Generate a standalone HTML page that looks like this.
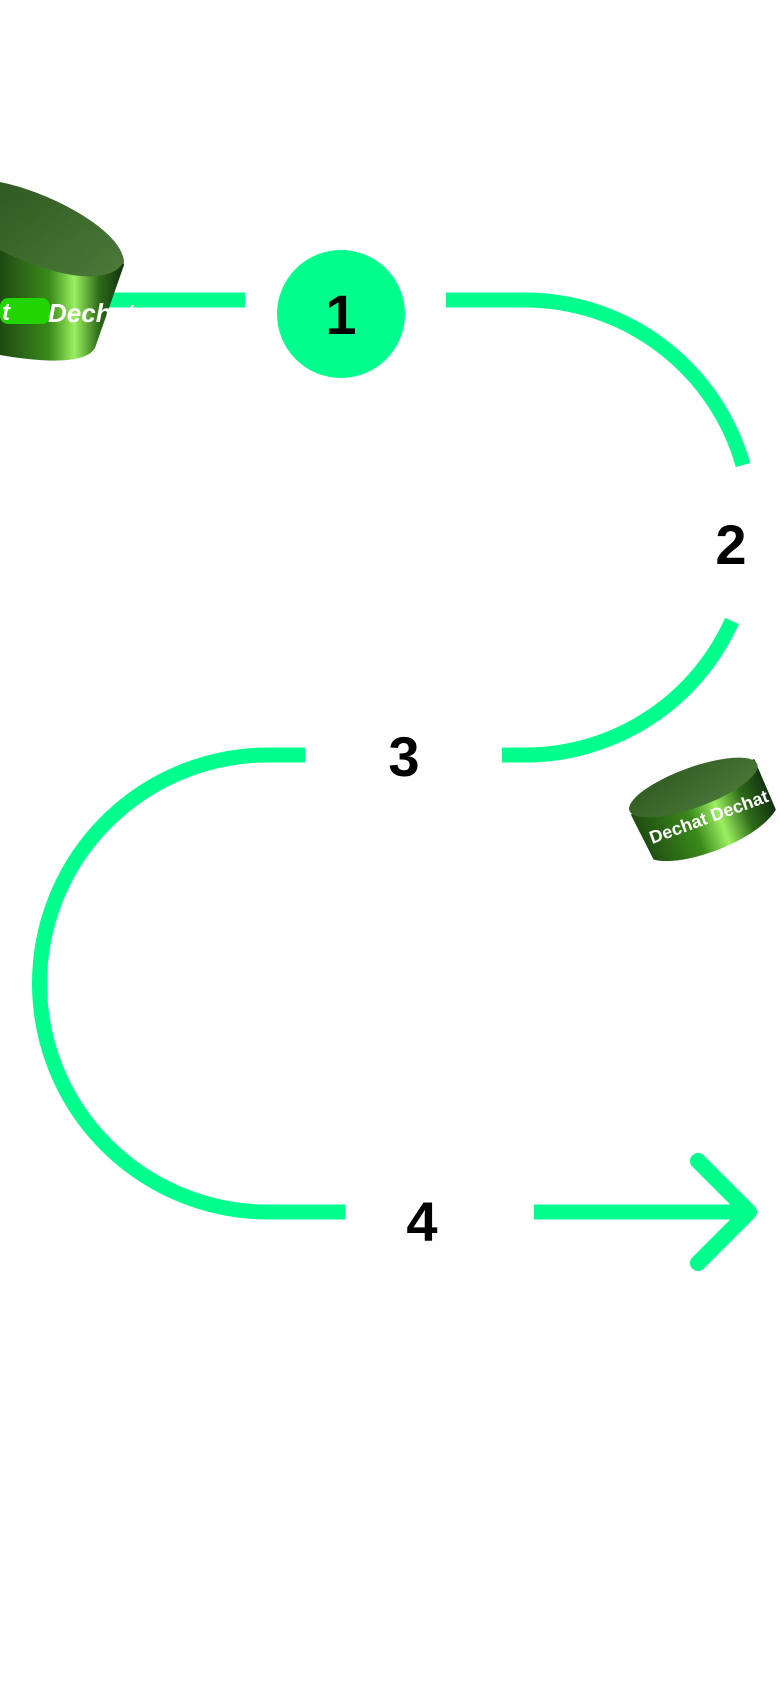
<!DOCTYPE html>
<html><head><meta charset="utf-8"><style>
html,body{margin:0;padding:0;background:#fff;width:780px;height:1688px;overflow:hidden}
svg{display:block}
text{font-family:"Liberation Sans","DejaVu Sans",sans-serif;font-weight:bold}
</style></head><body>
<svg width="780" height="1688" viewBox="0 0 780 1688" xmlns="http://www.w3.org/2000/svg">
<defs>
<linearGradient id="side" x1="0" y1="0" x2="1" y2="0">
<stop offset="0" stop-color="#1f4a12"/><stop offset="0.4" stop-color="#3a8a1a"/><stop offset="0.6" stop-color="#9af060"/><stop offset="0.8" stop-color="#2e6a18"/><stop offset="1" stop-color="#123010"/>
</linearGradient>
<linearGradient id="top" x1="0" y1="0" x2="1" y2="1">
<stop offset="0" stop-color="#2f5a22"/><stop offset="1" stop-color="#4c7a3a"/>
</linearGradient>
</defs>
<g fill="none" stroke="#00ff8c" stroke-width="15">
<line x1="100" y1="300" x2="245" y2="300"/>
<path d="M446 300 H522 A227 227 0 0 1 743 465"/>
<path d="M732 621 A227 227 0 0 1 522 755 H502"/>
<path d="M305 755 H268 A228.5 228.5 0 0 0 268 1212 H345"/>
<line x1="534" y1="1212" x2="748" y2="1212"/>
<polyline points="698,1161 749,1212 698,1263" stroke-linecap="round" stroke-linejoin="round" stroke-width="16"/>
</g>
<circle cx="341" cy="314" r="64" fill="#00ff8c"/>
<text x="341" y="334" font-size="56" text-anchor="middle" fill="#000">1</text>
<text x="731" y="564" font-size="56" text-anchor="middle" fill="#000">2</text>
<text x="404" y="776" font-size="56" text-anchor="middle" fill="#000">3</text>
<text x="422" y="1241" font-size="56" text-anchor="middle" fill="#000">4</text>
<g>
<path d="M0 185 C50 195 120 235 124 265 L95 348 C85 365 40 362 0 355 Z" fill="url(#side)"/>
<path d="M0 182 C50 192 122 230 124 262 C110 285 60 280 0 250 Z" fill="url(#top)"/>
<rect x="0" y="298" width="50" height="26" rx="8" fill="#22d400"/>
<text x="48" y="322" font-size="26" fill="#fff" font-style="italic">Dechat</text>
<text x="2" y="320" font-size="24" fill="#fff" font-style="italic">t</text>
</g>
<g transform="rotate(-20 700 800)">
<path d="M630 790 L636 840 C660 858 740 858 768 835 L765 780 Z" fill="url(#side)"/>
<ellipse cx="698" cy="786" rx="68" ry="20" fill="url(#top)"/>
<text x="640" y="825" font-size="18" fill="#fff">Dechat</text>
<text x="705" y="825" font-size="18" fill="#fff">Dechat</text>
</g>
</svg>
</body></html>
